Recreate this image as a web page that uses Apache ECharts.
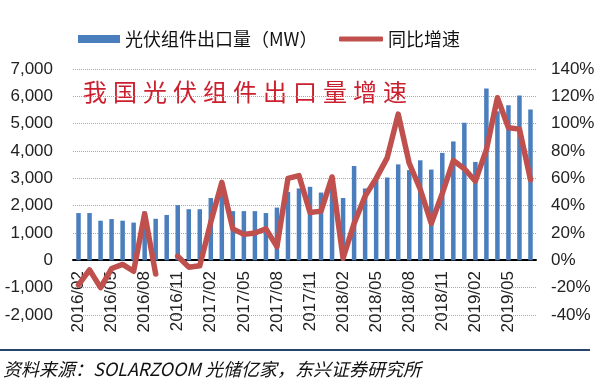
<!DOCTYPE html>
<html><head><meta charset="utf-8">
<script src="https://cdn.jsdelivr.net/npm/echarts@6/dist/echarts.min.js"></script>
<style>html,body{margin:0;padding:0;background:#fff}#c{width:599px;height:383px}</style>
</head><body><div id="c"></div>
<script>
var categories = [
 '2016/02','2016/03','2016/04','2016/05','2016/06','2016/07','2016/08','2016/09','2016/10','2016/11','2016/12',
 '2017/01','2017/02','2017/03','2017/04','2017/05','2017/06','2017/07','2017/08','2017/09','2017/10','2017/11','2017/12',
 '2018/01','2018/02','2018/03','2018/04','2018/05','2018/06','2018/07','2018/08','2018/09','2018/10','2018/11','2018/12',
 '2019/01','2019/02','2019/03','2019/04','2019/05','2019/06','2019/07'];
var exportMW = [
 1730,1730,1450,1510,1450,1380,1790,1520,1660,2020,1870,
 1870,2280,2450,1800,1800,1800,1730,1930,2500,2630,2690,2480,
 2700,2280,3450,2630,2950,3030,3510,3300,3660,3320,3930,4350,
 5030,3600,6290,5450,5670,6030,5520];
var yoyGrowth = [
 -18,-7,-20,-6,-3,-8,34,-10,null,3,-5,
 -4,28,57,23,19,20,23,10,60,62,35,36,
 61,1.5,27,47,60,75,107,71,52,27,49,73,
 67,58,81,119,97,96,59];
var barName = '光伏组件出口量（MW）';
var lineName = '同比增速';
var titleText = '我国光伏组件出口量增速';
var sourceText = '资料来源：SOLARZOOM 光储亿家，东兴证券研究所';

var chart = echarts.init(document.getElementById('c'), null, {renderer:'canvas'});
var titleChars = titleText.split('').map(function(ch, i){
  return {type:'text', left: 83 + i*30, top: 80,
    style:{text: ch, fill:'#cc1f2e', font:'normal 24px "Noto Sans CJK SC"'}};
});
var labelFont = 'Liberation Sans';
chart.setOption({
  animation:false,
  legend:[
    {data:[{name:barName, icon:'rect'}], left:78, top:30, padding:0, itemWidth:42, itemHeight:8, itemGap:6,
     textStyle:{fontSize:18, color:'#111', fontFamily:'Noto Sans CJK SC'}},
    {data:[{name:lineName, icon:'roundRect'}], left:339, top:30, padding:0, itemWidth:44, itemHeight:5,
     textStyle:{fontSize:18, color:'#111', fontFamily:'Noto Sans CJK SC'}}
  ],
  grid:{left:73, right:63, top:69, bottom:68, containLabel:false},
  xAxis:{type:'category', data:categories, position:'bottom', offset:-55,
    axisLine:{onZero:false, lineStyle:{color:'#000', width:2}},
    axisTick:{show:false},
    axisLabel:{interval:2, rotate:90, margin:11, fontSize:17, color:'#222', fontFamily:labelFont}
  },
  yAxis:[
    {type:'value', min:-2000, max:7000, interval:1000,
     axisLine:{show:false}, axisTick:{show:false},
     axisLabel:{margin:20, fontSize:17, color:'#222', fontFamily:labelFont,
       formatter:function(v){ return v.toLocaleString('en-US'); }},
     splitLine:{show:true, lineStyle:{color:'#a8a8a8', type:'dotted', width:1}}},
    {type:'value', min:-40, max:140, interval:20,
     axisLine:{show:false}, axisTick:{show:false},
     axisLabel:{margin:15, fontSize:17, color:'#222', fontFamily:labelFont, formatter:'{value}%'},
     splitLine:{show:false}}
  ],
  series:[
    {name:barName, type:'bar', data:exportMW, barWidth:4.5, itemStyle:{color:'#4a7ebd'}, z:2},
    {name:lineName, type:'line', yAxisIndex:1, data:yoyGrowth, connectNulls:false, symbol:'none',
     lineStyle:{color:'#c0504d', width:5.5, join:'round', cap:'round'}, itemStyle:{color:'#c0504d'}, z:3}
  ],
  graphic:[
    {type:'group', children: titleChars},
    {type:'line', shape:{x1:0, y1:350, x2:590, y2:350}, style:{stroke:'#27456a', lineWidth:2}},
    {type:'text', left:3, top:360,
     style:{text:sourceText, fill:'#111', font:'italic 18px "Noto Sans CJK SC", "Liberation Sans"'}}
  ]
});
</script></body></html>
